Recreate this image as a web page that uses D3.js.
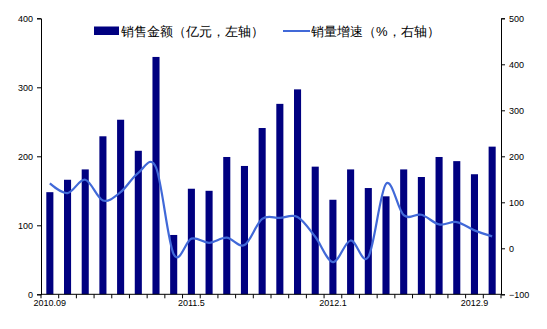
<!DOCTYPE html>
<html>
<head>
<meta charset="utf-8">
<script src="https://cdn.jsdelivr.net/npm/d3@7"></script>
<style>
  body { margin: 0; background: #fff; }
  text { font-family: Arial, "Liberation Sans", sans-serif; }
</style>
</head>
<body>
<div id="container"></div>
<script>
//Months, one per bar (2010.09 .. 2012.10)
var months = [];
for (var i = 0; i < 26; i++) {
    var m = 9 + i, y = 2010 + Math.floor((m - 1) / 12);
    months.push(y + "." + ((m - 1) % 12 + 1));
}
//Labels shown under the x axis
var xLabels = {0: "2010.09", 8: "2011.5", 16: "2012.1", 24: "2012.9"};

//Sales amount (left axis)
var sales = [148, 166, 181, 229, 253, 208, 344, 86, 153, 150, 199, 186, 241,
    276, 297, 185, 137, 181, 154, 142, 181, 170, 199, 193, 174, 214];
//Volume growth (right axis)
var growth = [141, 120, 149, 104, 122, 164, 176, -13, 21, 12, 23, 7, 64,
    66, 68, 25, -30, 17, -19, 140, 72, 73, 52, 57, 39, 26];

var leftTicks = [0, 100, 200, 300, 400],
    rightTicks = [-100, 0, 100, 200, 300, 400, 500];

var width = 547, height = 329;
var plot = {left: 41, right: 501, top: 18.3, bottom: 294.3};

var svg = d3.select("#container").append("svg")
    .attr("width", width)
    .attr("height", height);

var x = d3.scaleBand()
    .domain(d3.range(months.length))
    .range([plot.left, plot.right])
    .paddingInner(0.6)
    .paddingOuter(0.3);

var yL = d3.scaleLinear().domain([0, 400]).range([plot.bottom, plot.top]);
var yR = d3.scaleLinear().domain([-100, 500]).range([plot.bottom, plot.top]);

//Bars
svg.append("g")
    .selectAll("rect")
    .data(sales)
    .enter().append("rect")
    .attr("x", function (d, i) { return x(i); })
    .attr("y", function (d) { return yL(d); })
    .attr("width", x.bandwidth())
    .attr("height", function (d) { return yL(0) - yL(d); })
    .attr("fill", "#000080");

//Smoothed growth line
var line = d3.line()
    .x(function (d, i) { return x(i) + x.bandwidth() / 2; })
    .y(function (d) { return yR(d); })
    .curve(d3.curveCardinal.tension(0));

svg.append("path")
    .datum(growth)
    .attr("d", line)
    .attr("fill", "none")
    .attr("stroke", "#4169D8")
    .attr("stroke-width", 2.2);

//Left axis
var gl = svg.append("g")
    .attr("transform", "translate(" + plot.left + ",0)")
    .call(d3.axisLeft(yL).tickValues(leftTicks).tickSize(4).tickPadding(4));
//Right axis
var gr = svg.append("g")
    .attr("transform", "translate(" + plot.right + ",0)")
    .call(d3.axisRight(yR).tickValues(rightTicks).tickSize(4).tickPadding(4));

[gl, gr].forEach(function (g) {
    g.select(".domain").attr("stroke", "#000");
    g.selectAll(".tick line").attr("stroke", "#000");
    g.selectAll("text").attr("font-size", 9).attr("fill", "#000");
});

//X axis: baseline, ticks between categories, labels
var gx = svg.append("g");
gx.append("line")
    .attr("x1", plot.left).attr("x2", plot.right)
    .attr("y1", plot.bottom).attr("y2", plot.bottom)
    .attr("stroke", "#000");
var bounds = d3.range(months.length + 1).map(function (i) {
    return plot.left + i * (plot.right - plot.left) / months.length;
});
gx.selectAll(".xt")
    .data(bounds)
    .enter().append("line")
    .attr("x1", function (d) { return d; })
    .attr("x2", function (d) { return d; })
    .attr("y1", plot.bottom)
    .attr("y2", plot.bottom + 4)
    .attr("stroke", "#000");
gx.selectAll(".xl")
    .data(d3.range(months.length).filter(function (i) { return xLabels[i]; }))
    .enter().append("text")
    .attr("x", function (i) { return x(i) + x.bandwidth() / 2; })
    .attr("y", plot.bottom + 12)
    .attr("text-anchor", "middle")
    .attr("font-size", 9)
    .text(function (i) { return xLabels[i]; });

//Legend
var lg = svg.append("g");
lg.append("rect")
    .attr("x", 94).attr("y", 26.5)
    .attr("width", 25).attr("height", 8.5)
    .attr("fill", "#000080");
lg.append("text")
    .attr("x", 121).attr("y", 36)
    .attr("font-size", 13)
    .attr("font-family", "'Noto Sans CJK SC', sans-serif")
    .text("销售金额（亿元，左轴）");
lg.append("line")
    .attr("x1", 283).attr("x2", 310)
    .attr("y1", 31).attr("y2", 31)
    .attr("stroke", "#4169D8")
    .attr("stroke-width", 2);
lg.append("text")
    .attr("x", 311).attr("y", 36)
    .attr("font-size", 13)
    .attr("font-family", "'Noto Sans CJK SC', sans-serif")
    .text("销量增速（%，右轴）");
</script>
</body>
</html>
